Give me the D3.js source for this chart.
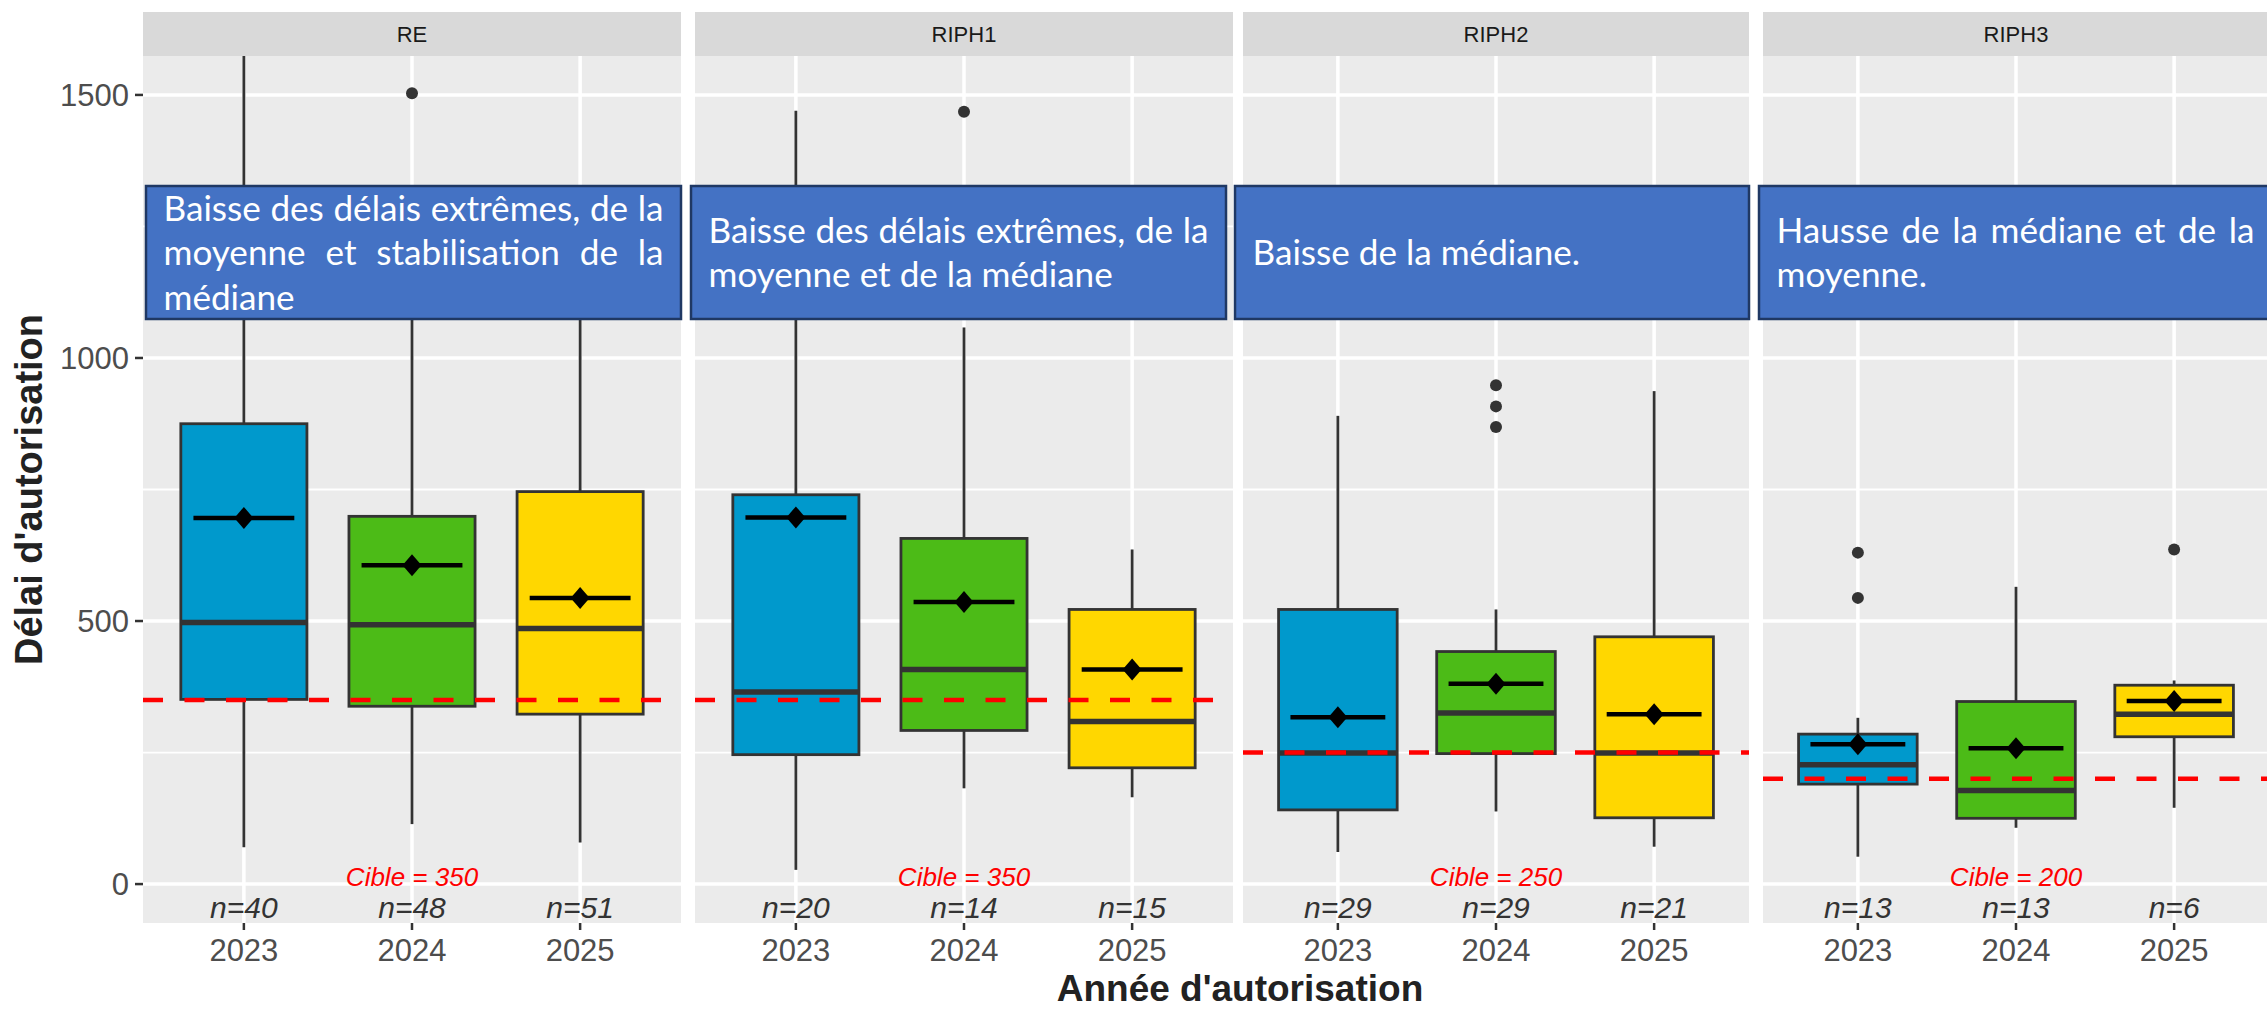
<!DOCTYPE html>
<html><head><meta charset="utf-8">
<script src="https://cdn.jsdelivr.net/npm/d3@7"></script>
<style>body{margin:0;background:#fff}svg{display:block}</style>
</head><body><svg id="c" width="2267" height="1010"></svg>
<script>
// ---------- DATA ----------
const panels = ["RE", "RIPH1", "RIPH2", "RIPH3"];
const years = ["2023", "2024", "2025"];
const targets = [350, 350, 250, 200];
const counts = [[40, 48, 51], [20, 14, 15], [29, 29, 21], [13, 13, 6]];
const whiskerLow = [[70, 114, 79], [27, 182, 165], [61, 138, 71], [52, 107, 145]];
const q1 = [[351, 338, 323], [246, 292, 221], [141, 248, 126], [190, 125, 280]];
const medians = [[497, 493, 486], [365, 408, 309], [249, 325, 249], [227, 178, 323]];
const q3 = [[875, 699, 746], [740, 657, 522], [522, 442, 470], [285, 347, 378]];
const whiskerHigh = [[1640, 1200, 1250], [1470, 1058, 636], [890, 522, 937], [316, 565, 387]];
const means = [[696, 606, 544], [697, 536, 408], [317, 381, 323], [266, 258, 348]];
const outliers = [[[], [1503], []], [[], [1468], []], [[], [948, 908, 869], []], [[630, 544], [], [636]]];
const yTicks = [0, 500, 1000, 1500];
const yMinor = [250, 750, 1250];
const notes = [
  ["Baisse des délais extrêmes, de la", "moyenne et stabilisation de la", "médiane"],
  ["Baisse des délais extrêmes, de la", "moyenne et de la médiane"],
  ["Baisse de la médiane."],
  ["Hausse de la médiane et de la", "moyenne."]
];
const yearColors = ["#0099CC", "#4CBB17", "#FFD700"];
const yTitle = "Délai d'autorisation";
const xTitle = "Année d'autorisation";

// ---------- LAYOUT ----------
const L = {
  panelX: [[143, 681], [695, 1233], [1243, 1749], [1763, 2269]],
  noteX: [[146, 681], [691, 1226], [1235, 1749], [1759, 2272]],
  top: 56, bottom: 923, stripTop: 12,
  noteTop: 186, noteBottom: 319
};
const svg = d3.select("#c");
const y = d3.scaleLinear().domain([-74, 1574]).range([L.bottom, L.top]);
const defs = svg.append("defs");

panels.forEach((p, pi) => {
  const [x0, x1] = L.panelX[pi];
  const x = d3.scalePoint().domain(years).range([x0, x1]).padding(0.6);
  const step = x.step();
  const g = svg.append("g");
  // strip
  g.append("rect").attr("x", x0).attr("y", L.stripTop).attr("width", x1 - x0).attr("height", L.top - L.stripTop).attr("fill", "#D9D9D9");
  g.append("text").attr("x", (x0 + x1) / 2).attr("y", (L.stripTop + L.top) / 2 + 8)
    .attr("text-anchor", "middle").attr("font-family", "Liberation Sans, Arial").attr("font-size", 22).attr("fill", "#1A1A1A").text(p);
  // panel bg
  g.append("rect").attr("x", x0).attr("y", L.top).attr("width", x1 - x0).attr("height", L.bottom - L.top).attr("fill", "#EBEBEB");
  // grid
  g.selectAll(".ymin").data(yMinor).join("line").attr("x1", x0).attr("x2", x1).attr("y1", d => y(d)).attr("y2", d => y(d)).attr("stroke", "#fff").attr("stroke-width", 1.8);
  g.selectAll(".ymaj").data(yTicks).join("line").attr("x1", x0).attr("x2", x1).attr("y1", d => y(d)).attr("y2", d => y(d)).attr("stroke", "#fff").attr("stroke-width", 3.5);
  g.selectAll(".xmaj").data(years).join("line").attr("x1", d => x(d)).attr("x2", d => x(d)).attr("y1", L.top).attr("y2", L.bottom).attr("stroke", "#fff").attr("stroke-width", 3.5);

  const cid = "clip" + pi;
  defs.append("clipPath").attr("id", cid).append("rect").attr("x", x0).attr("y", L.top).attr("width", x1 - x0).attr("height", L.bottom - L.top);
  const m = g.append("g").attr("clip-path", `url(#${cid})`);
  years.forEach((yr, yi) => {
    const cx = x(yr), bw = step * 0.75;
    m.append("line").attr("x1", cx).attr("x2", cx).attr("y1", y(q3[pi][yi])).attr("y2", y(whiskerHigh[pi][yi])).attr("stroke", "#333").attr("stroke-width", 2.8);
    m.append("line").attr("x1", cx).attr("x2", cx).attr("y1", y(q1[pi][yi])).attr("y2", y(whiskerLow[pi][yi])).attr("stroke", "#333").attr("stroke-width", 2.8);
    m.append("rect").attr("x", cx - bw / 2).attr("y", y(q3[pi][yi])).attr("width", bw).attr("height", y(q1[pi][yi]) - y(q3[pi][yi]))
      .attr("fill", yearColors[yi]).attr("stroke", "#333").attr("stroke-width", 2.8);
    m.append("line").attr("x1", cx - bw / 2).attr("x2", cx + bw / 2).attr("y1", y(medians[pi][yi])).attr("y2", y(medians[pi][yi])).attr("stroke", "#333").attr("stroke-width", 5.5);
    m.selectAll(null).data(outliers[pi][yi]).join("circle").attr("cx", cx).attr("cy", d => y(d)).attr("r", 6).attr("fill", "#333");
  });
  // target
  m.append("line").attr("x1", x0).attr("x2", x1).attr("y1", y(targets[pi])).attr("y2", y(targets[pi]))
    .attr("stroke", "#FF0000").attr("stroke-width", 4.5).attr("stroke-dasharray", "20,21.5");
  years.forEach((yr, yi) => {
    const cx = x(yr), mw = step * 0.6, my = y(means[pi][yi]);
    m.append("line").attr("x1", cx - mw / 2).attr("x2", cx + mw / 2).attr("y1", my).attr("y2", my).attr("stroke", "#000").attr("stroke-width", 4.5);
    m.append("path").attr("transform", `translate(${cx},${my})`).attr("d", "M0,-11L9.5,0L0,11L-9.5,0Z").attr("fill", "#000");
  });
  // labels
  g.append("text").attr("x", x(years[1])).attr("y", 885.5).attr("text-anchor", "middle").attr("font-family", "Liberation Sans, Arial")
    .attr("font-style", "italic").attr("font-size", 26).attr("fill", "#FF0000").text("Cible = " + targets[pi]);
  g.selectAll(".n").data(years).join("text").attr("x", d => x(d)).attr("y", 918).attr("text-anchor", "middle").attr("font-family", "Liberation Sans, Arial")
    .attr("font-style", "italic").attr("font-size", 30).attr("fill", "#333").text((d, i) => "n=" + counts[pi][i]);
  // x axis
  g.selectAll(".xt").data(years).join("line").attr("x1", d => x(d)).attr("x2", d => x(d)).attr("y1", L.bottom).attr("y2", L.bottom + 7).attr("stroke", "#333").attr("stroke-width", 2.5);
  g.selectAll(".xl").data(years).join("text").attr("x", d => x(d)).attr("y", 961).attr("text-anchor", "middle").attr("font-family", "Liberation Sans, Arial")
    .attr("font-size", 31).attr("fill", "#4D4D4D").text(d => d);
});

// y axis (left)
const ya = svg.append("g");
ya.selectAll("line").data(yTicks).join("line").attr("x1", 135).attr("x2", 143).attr("y1", d => y(d)).attr("y2", d => y(d)).attr("stroke", "#333").attr("stroke-width", 2.5);
ya.selectAll("text").data(yTicks).join("text").attr("x", 129).attr("y", d => y(d) + 11).attr("text-anchor", "end").attr("font-family", "Liberation Sans, Arial")
  .attr("font-size", 31).attr("fill", "#4D4D4D").text(d => d);

// titles
svg.append("text").attr("transform", `translate(42,${(L.top + L.bottom) / 2}) rotate(-90)`).attr("text-anchor", "middle")
  .attr("font-family", "Liberation Sans, Arial").attr("font-weight", "bold").attr("font-size", 38).attr("fill", "#222").text(yTitle);
svg.append("text").attr("x", 1240).attr("y", 1001).attr("text-anchor", "middle")
  .attr("font-family", "Liberation Sans, Arial").attr("font-weight", "bold").attr("font-size", 37).attr("fill", "#222").text(xTitle);

// annotation boxes
const NF = "Lato, 'Open Sans', sans-serif";
const tmp = svg.append("text").attr("font-family", NF).attr("font-size", 100).text(notes[0][0]);
const fs = 100 * 497 / tmp.node().getComputedTextLength();
tmp.remove();
function tw(s) {
  const t = svg.append("text").attr("font-family", NF).attr("font-size", fs).text(s);
  const w = t.node().getComputedTextLength(); t.remove(); return w;
}
notes.forEach((lines, pi) => {
  const [a, b] = L.noteX[pi];
  const g = svg.append("g");
  g.append("rect").attr("x", a).attr("y", L.noteTop).attr("width", b - a).attr("height", L.noteBottom - L.noteTop)
    .attr("fill", "#4472C4").attr("stroke", "#1F3864").attr("stroke-width", 2.5);
  const pad = 17.5, inner = b - a - 2 * pad, cy = (L.noteTop + L.noteBottom) / 2, lh = 44.5;
  lines.forEach((line, li) => {
    const ly = cy + (li - (lines.length - 1) / 2) * lh + fs * 0.36;
    const words = line.split(" ");
    if (li < lines.length - 1 && words.length > 1) {
      const ws = words.map(tw);
      const gap = (inner - d3.sum(ws)) / (words.length - 1);
      let cx = a + pad;
      words.forEach((w, wi) => {
        g.append("text").attr("x", cx).attr("y", ly).attr("font-family", NF).attr("font-size", fs).attr("fill", "#fff").text(w);
        cx += ws[wi] + gap;
      });
    } else {
      g.append("text").attr("x", a + pad).attr("y", ly).attr("font-family", NF).attr("font-size", fs).attr("fill", "#fff").text(line);
    }
  });
});
</script></body></html>
